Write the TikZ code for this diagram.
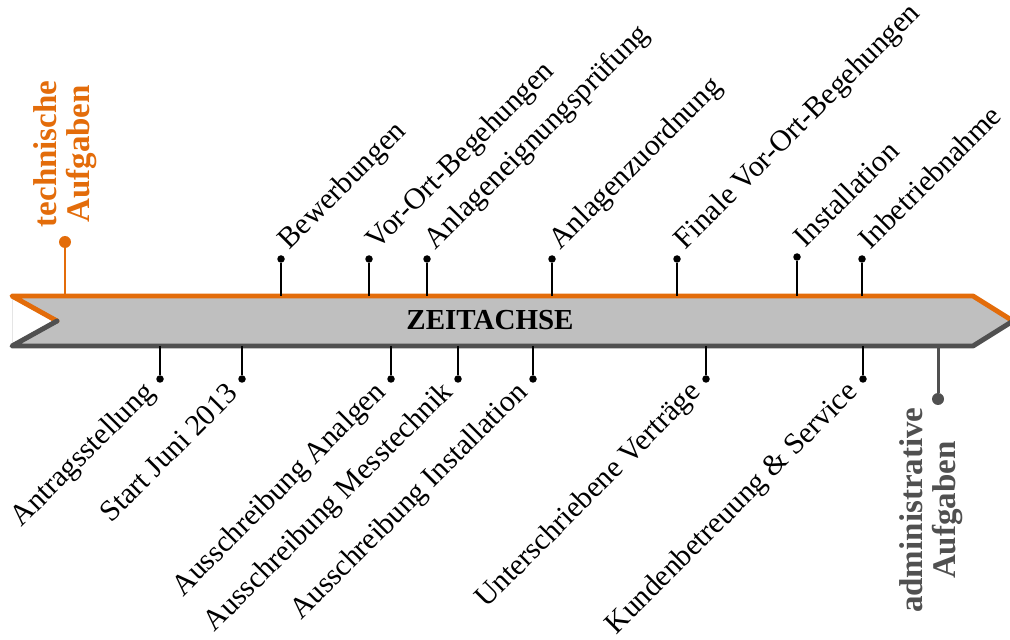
\documentclass[tikz,border=0pt]{standalone}
\usepackage{fontspec}
\setmainfont{Liberation Serif}

\definecolor{techorange}{RGB}{227,108,10}
\definecolor{admingray}{RGB}{80,80,80}
\definecolor{barfill}{RGB}{191,191,191}

\tikzset{
    tickdot/.style={circle, fill=black, inner sep=0pt, minimum size=0.15cm},
    tickline/.style={line width=1.1pt},
    upperlabel/.style={rotate=45, anchor=base west, inner xsep=0.24cm, font=\fontsize{17}{20}\selectfont},
    lowerlabel/.style={rotate=45, anchor=east, inner xsep=0.26cm, font=\fontsize{17}{20}\selectfont},
    grouplabel/.style={rotate=90, align=center, font=\bfseries\fontsize{18.8}{18.8}\selectfont},
}

\begin{document}
\begin{tikzpicture}
    \useasboundingbox (0,0) rectangle (20.2,12.78);

    % Time axis
    \fill[barfill] (0.24,6.86) -- (1.14,6.36) -- (0.24,5.86) -- (19.46,5.86) -- (20.26,6.36) -- (19.46,6.86) -- cycle;
    \draw[gray!20, thin] (0.24,6.86) -- (0.24,5.86);
    \draw[techorange, line width=2.8pt, line cap=round, line join=round] (1.14,6.36) -- (0.24,6.86) -- (19.46,6.86) -- (20.26,6.36);
    \draw[admingray, line width=2.8pt, line cap=round, line join=round] (1.14,6.36) -- (0.24,5.86) -- (19.46,5.86) -- (20.26,6.36);
    \node[font=\bfseries\fontsize{16.5}{20}\selectfont] (axis) at (9.8,6.38) {ZEITACHSE};

    % Technical tasks
    \coordinate (tbase) at (1.3,6.86);
    \node[circle, fill=techorange, inner sep=0pt, minimum size=0.24cm] (tdot) at (1.3,7.94) {};
    \draw[techorange, line width=1.7pt] (tbase) -- (tdot);
    \node[grouplabel, techorange, anchor=west, inner xsep=0.16cm] (ttext) at (tdot.north) {technische\\Aufgaben};

    % Administrative tasks
    \coordinate (abase) at (18.76,5.86);
    \node[circle, fill=admingray, inner sep=0pt, minimum size=0.24cm] (adot) at (18.76,4.8) {};
    \draw[admingray, line width=1.7pt] (abase) -- (adot);
    \node[grouplabel, admingray, anchor=east, inner xsep=0.04cm] (atext) at (18.62,4.68) {administrative\\Aufgaben};

    % Upper milestones
    \coordinate (ub1) at (5.62,6.86);  \node[tickdot] (ud1) at (5.62,7.6) {};
    \coordinate (ub2) at (7.38,6.86);  \node[tickdot] (ud2) at (7.38,7.6) {};
    \coordinate (ub3) at (8.54,6.86);  \node[tickdot] (ud3) at (8.54,7.6) {};
    \coordinate (ub4) at (11.04,6.86); \node[tickdot] (ud4) at (11.04,7.6) {};
    \coordinate (ub5) at (13.54,6.86); \node[tickdot] (ud5) at (13.54,7.6) {};
    \coordinate (ub6) at (15.94,6.86); \node[tickdot] (ud6) at (15.94,7.64) {};
    \coordinate (ub7) at (17.24,6.86); \node[tickdot] (ud7) at (17.24,7.6) {};
    \draw[tickline] (ub1) -- (ud1);
    \draw[tickline] (ub2) -- (ud2);
    \draw[tickline] (ub3) -- (ud3);
    \draw[tickline] (ub4) -- (ud4);
    \draw[tickline] (ub5) -- (ud5);
    \draw[tickline] (ub6) -- (ud6);
    \draw[tickline] (ub7) -- (ud7);
    \node[upperlabel] (ul1) at (ud1) {Bewerbungen};
    \node[upperlabel] (ul2) at (ud2) {Vor-Ort-Begehungen};
    \node[upperlabel] (ul3) at (ud3) {Anlageneignungsprüfung};
    \node[upperlabel] (ul4) at (ud4) {Anlagenzuordnung};
    \node[upperlabel] (ul5) at (ud5) {Finale Vor-Ort-Begehungen};
    \node[upperlabel] (ul6) at (ud6) {Installation};
    \node[upperlabel] (ul7) at (ud7) {Inbetriebnahme};

    % Lower milestones
    \coordinate (lb1) at (3.2,5.86);   \node[tickdot] (ld1) at (3.2,5.2) {};
    \coordinate (lb2) at (4.84,5.86);  \node[tickdot] (ld2) at (4.84,5.2) {};
    \coordinate (lb3) at (7.82,5.86);  \node[tickdot] (ld3) at (7.82,5.2) {};
    \coordinate (lb4) at (9.16,5.86);  \node[tickdot] (ld4) at (9.16,5.2) {};
    \coordinate (lb5) at (10.66,5.86); \node[tickdot] (ld5) at (10.66,5.2) {};
    \coordinate (lb6) at (14.12,5.86); \node[tickdot] (ld6) at (14.12,5.2) {};
    \coordinate (lb7) at (17.26,5.86); \node[tickdot] (ld7) at (17.26,5.2) {};
    \draw[tickline] (lb1) -- (ld1);
    \draw[tickline] (lb2) -- (ld2);
    \draw[tickline] (lb3) -- (ld3);
    \draw[tickline] (lb4) -- (ld4);
    \draw[tickline] (lb5) -- (ld5);
    \draw[tickline] (lb6) -- (ld6);
    \draw[tickline] (lb7) -- (ld7);
    \node[lowerlabel] (ll1) at (ld1) {Antragsstellung};
    \node[lowerlabel] (ll2) at (ld2) {Start Juni 2013};
    \node[lowerlabel] (ll3) at (ld3) {Ausschreibung Analgen};
    \node[lowerlabel] (ll4) at (ld4) {Ausschreibung Messtechnik};
    \node[lowerlabel] (ll5) at (ld5) {Ausschreibung Installation};
    \node[lowerlabel] (ll6) at (ld6) {Unterschriebene Verträge};
    \node[lowerlabel] (ll7) at (ld7) {Kundenbetreuung \& Service};

\end{tikzpicture}
\end{document}
